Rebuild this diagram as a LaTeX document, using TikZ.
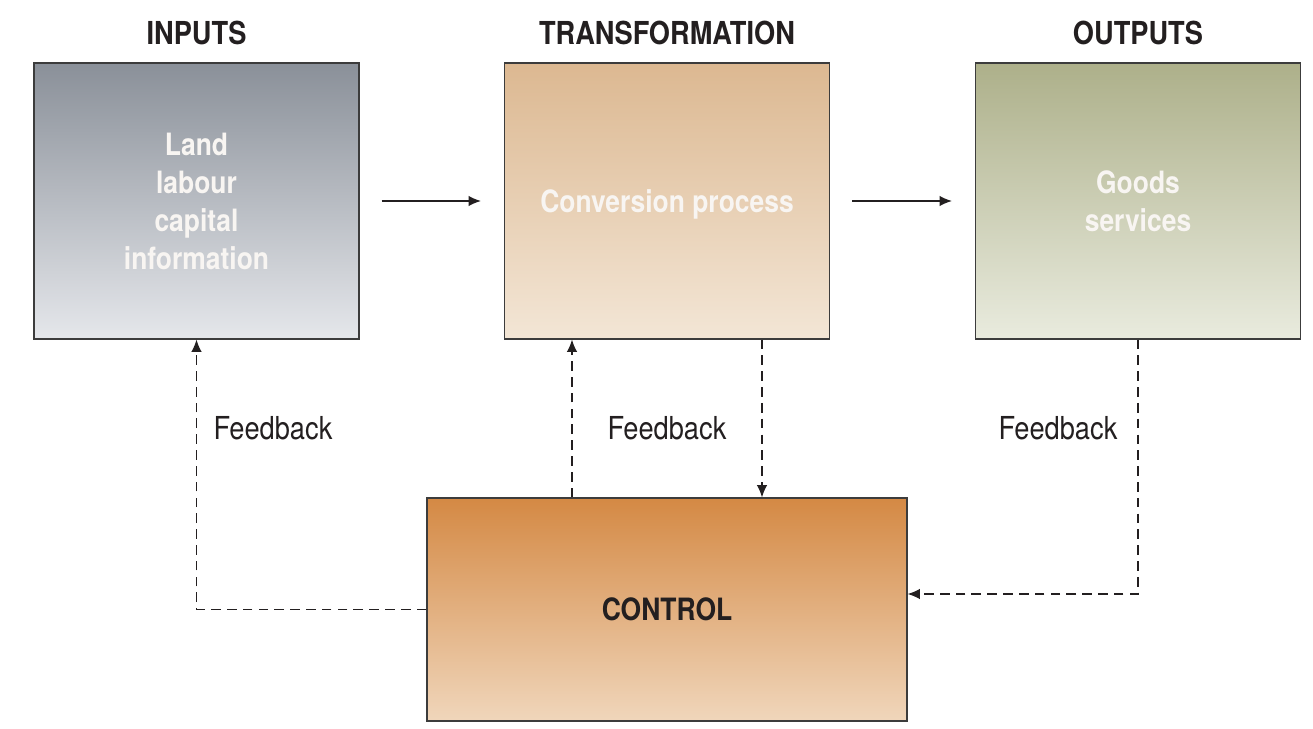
\documentclass[tikz,border=0pt]{standalone}
\usepackage{fontspec}
\usepackage{xcolor}
\setmainfont{TeX Gyre Heros}[FakeStretch=0.86]
\usetikzlibrary{arrows.meta}

\begin{document}
\begin{tikzpicture}[>={Latex[length=7pt,width=6pt]}]

\definecolor{inputtop}{RGB}{138, 144, 153}
\definecolor{inputbot}{RGB}{229, 231, 235}
\definecolor{transtop}{RGB}{220, 184, 145}
\definecolor{transbot}{RGB}{243, 230, 214}
\definecolor{outtop}{RGB}{173, 176, 138}
\definecolor{outbot}{RGB}{233, 235, 222}
\definecolor{ctrltop}{RGB}{212, 137, 68}
\definecolor{ctrlbot}{RGB}{240, 214, 187}
\definecolor{boxtext}{RGB}{248, 245, 242}
\definecolor{inkdark}{RGB}{35, 31, 32}
\definecolor{frame}{RGB}{60, 60, 60}

% Page size
\useasboundingbox (0,0) rectangle (26.26,-14.58);

\tikzset{
    block/.style={
        draw=frame, line width=0.75pt,
        rectangle, inner sep=2pt,
        minimum width=6.5cm, minimum height=5.52cm,
        text=boxtext, align=center,
        font=\bfseries\fontsize{17.5}{21.6}\selectfont
    },
    inputs block/.style={block, top color=inputtop, bottom color=inputbot},
    transform block/.style={block, top color=transtop, bottom color=transbot},
    outputs block/.style={block, top color=outtop, bottom color=outbot},
    control block/.style={
        block, top color=ctrltop, bottom color=ctrlbot,
        minimum width=9.6cm, minimum height=4.46cm, text=inkdark
    },
    heading/.style={
        text=inkdark, font=\bfseries\fontsize{18}{22}\selectfont
    },
    fblabel/.style={
        text=inkdark, font=\fontsize{18}{22}\selectfont
    },
    flow/.style={
        draw=inkdark, line width=0.75pt, ->
    },
    feedback/.style={
        draw=inkdark, line width=0.7pt, dash pattern=on 5.5pt off 3.5pt, ->
    }
}

% Headings
\node[heading] (hIn) at (3.93, -0.66) {INPUTS};
\node[heading] (hTrans) at (13.34, -0.66) {TRANSFORMATION};
\node[heading] (hOut) at (22.76, -0.66) {OUTPUTS};

% Blocks
\node[inputs block] (inputs) at (3.93, -4.02) {Land\\labour\\capital\\information};
\node[transform block, text depth=0pt] (transf) at (13.34, -4.02) {Conversion process};
\node[outputs block] (outputs) at (22.76, -4.02) {Goods\\services};
\node[control block] (control) at (13.34, -12.19) {CONTROL};

% Main flow
\draw[flow, shorten <=0.44cm, shorten >=0.46cm] (inputs) -- (transf);
\draw[flow, shorten <=0.44cm, shorten >=0.46cm] (transf) -- (outputs);

% Feedback loops
\draw[feedback] (control.west) -| (inputs.south);
\draw[feedback] ([xshift=-1.9cm]transf.south |- control.north) -- ([xshift=-1.9cm]transf.south);
\draw[feedback] ([xshift=1.9cm]transf.south) -- ([xshift=1.9cm]transf.south |- control.north);
\draw[feedback] (outputs.south) |- ([yshift=0.31cm]control.east);

% Feedback labels
\node[fblabel] (fbIn) at (5.46, -8.56) {Feedback};
\node[fblabel] (fbTrans) at (13.34, -8.56) {Feedback};
\node[fblabel] (fbOut) at (21.16, -8.56) {Feedback};

\end{tikzpicture}
\end{document}
